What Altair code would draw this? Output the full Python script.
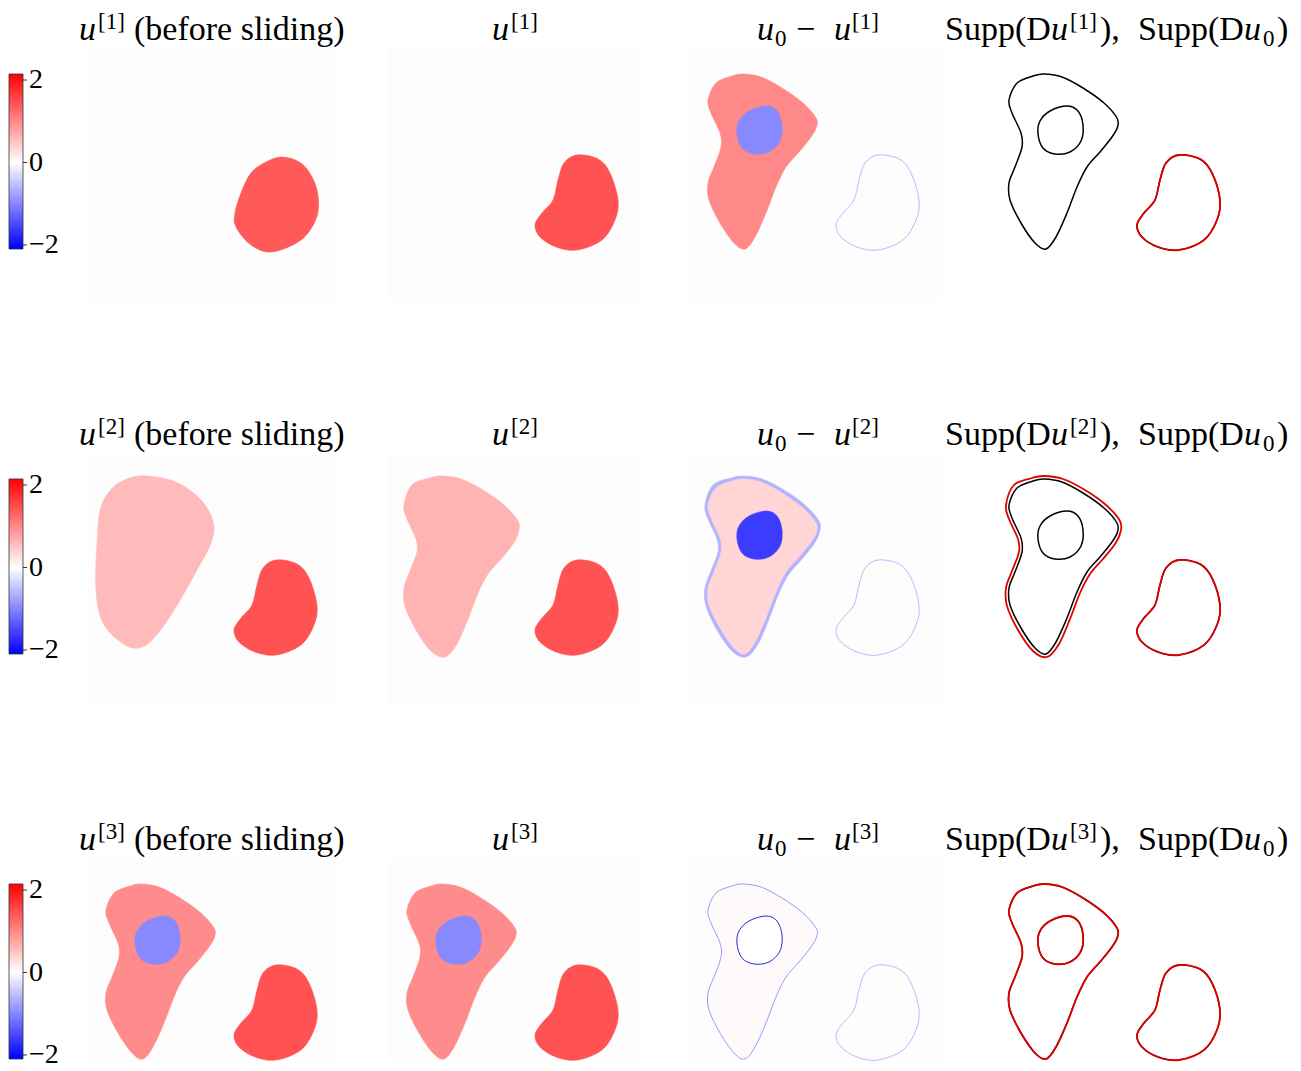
import altair as alt
import pandas as pd

# ---------------- data: outlines (panel-local pixels, y downward) ----------------
# u0 large region (outer boundary)
P_X = [19, 27, 43, 54, 72, 93, 114, 127, 127.5, 122, 110, 97, 87, 77, 66, 56, 45, 31, 20, 19, 25, 32, 31, 22]
P_Y = [52, 35, 28, 26, 29, 40, 55, 70, 79, 89, 104, 119, 139, 165, 189, 201, 195, 175, 152, 135, 119, 99, 85, 65]
# u0 inner region (hole)
H_X = [77, 88, 93, 91, 80, 65, 53, 48, 50, 60]
H_Y = [58, 63, 77, 93, 104, 106, 100, 86, 73, 63]
# u0 small region (bean)
B_X = [189, 210, 222, 230, 227, 214, 189, 168, 152, 147, 154, 165, 170, 176]
B_Y = [107, 111, 125, 152, 172, 192, 202, 199, 189, 177, 165, 152, 132, 115]
# u[1] small region before sliding
E1_X = [195, 214, 226.5, 231.5, 228.6, 214, 185, 164, 149, 148, 154, 164, 179]
E1_Y = [109, 115, 132, 152, 172, 192, 204, 197, 179, 165, 145, 125, 114]
# u[2] large region before sliding
E2_X = [60, 89, 114, 126.5, 124, 110, 89, 68, 51.5, 35, 16, 9, 10, 14, 26.5, 43]
E2_Y = [23, 29, 47, 70, 90, 117, 154, 184, 195, 190, 170, 137, 90, 54, 34, 25]
# u[2] large region after sliding
P2_X = [16, 24, 42, 54, 73, 95, 116, 130, 130.5, 125, 113, 100, 90, 80, 69, 57, 43, 28, 17, 16, 22, 29, 28, 19]
P2_Y = [52, 32, 25, 23, 26, 37, 52, 68, 79, 91, 106, 121, 140, 166, 191, 204, 198, 177, 153, 135, 118, 99, 86, 66]

# ---------------- data: field values ----------------
V_BEAN = 1.35
V_E1 = 1.30
V_E2 = 0.53
V_P2 = 0.60
V_U3_BIG = 0.90
V_U3_HOLE = -0.93
V_D1_BIG = 0.93
V_D1_HOLE = -0.93
V_D2_RIM = -0.60
V_D2_BIG = 0.33
V_D2_HOLE = -1.53
V_D3_BIG = 0.04
V_FAINT = 0.02
V_ZERO = 0.0

# colorbar
CB_TICKS = [-2, 0, 2]
CB_LABELS = ["\u22122", "0", "2"]
CB_LO, CB_HI = -2.097, 2.146
CB_TOP = 2.776
CB_PX_PER_UNIT = 41.25

TITLE_SUP = ["[1]", "[2]", "[3]"]

# ---------------- styling / layout ----------------
W = 252
HEIGHTS = [252, 252, 204]
FONT = "Liberation Serif"
MAIN = 34
SMALL = 23
Y_MAIN = -8
Y_SUP = -19
Y_SUB = -2

BWR = alt.Scale(domain=[-2, 0, 2], range=["#0000ff", "#ffffff", "#ff0000"], interpolate="rgb")


def xs_(H):
    return dict(
        x=alt.X("x:Q", scale=alt.Scale(domain=[0, W], nice=False, zero=False), axis=None),
        y=alt.Y("y:Q", scale=alt.Scale(domain=[0, H], nice=False, zero=False, reverse=True), axis=None),
    )


def sdf(xs, ys, v=0.0):
    return pd.DataFrame({"x": xs, "y": ys, "i": list(range(len(xs))), "v": [v] * len(xs)})


def filled(xs, ys, v, H):
    return alt.Chart(sdf(xs, ys, v)).mark_line(interpolate="cardinal-closed", strokeWidth=0.6).encode(
        **xs_(H),
        order=alt.Order("i:Q"),
        fill=alt.Fill("v:Q", scale=BWR, legend=None),
        stroke=alt.Stroke("v:Q", scale=BWR, legend=None),
    )


def outline(xs, ys, color, width, H):
    return alt.Chart(sdf(xs, ys)).mark_line(
        interpolate="cardinal-closed", color=color, strokeWidth=width
    ).encode(**xs_(H), order=alt.Order("i:Q"))


def txt(s, x, y, size, italic=False):
    return alt.Chart(pd.DataFrame({"t": [s]})).mark_text(
        align="left", baseline="alphabetic", font=FONT, fontSize=size,
        fontStyle="italic" if italic else "normal", color="black",
    ).encode(x=alt.value(x), y=alt.value(y), text="t:N")


def title_layers(col, k):
    sup = TITLE_SUP[k]
    if col == 0:
        return [txt("u", -8, Y_MAIN, MAIN, True), txt(sup, 11, Y_SUP, SMALL),
                txt("(before sliding)", 47, Y_MAIN, MAIN)]
    if col == 1:
        return [txt("u", 104, Y_MAIN, MAIN, True), txt(sup, 123, Y_SUP, SMALL)]
    if col == 2:
        return [txt("u", 68, Y_MAIN, MAIN, True), txt("0", 86, Y_SUB, SMALL),
                txt("\u2212", 107, Y_MAIN, MAIN), txt("u", 145, Y_MAIN, MAIN, True),
                txt(sup, 163, Y_SUP, SMALL)]
    return [txt("Supp(D", -45, Y_MAIN, MAIN), txt("u", 61, Y_MAIN, MAIN, True),
            txt(sup, 80, Y_SUP, SMALL), txt("),", 110, Y_MAIN, MAIN),
            txt("Supp(D", 148, Y_MAIN, MAIN), txt("u", 254, Y_MAIN, MAIN, True),
            txt("0", 273, Y_SUB, SMALL), txt(")", 287, Y_MAIN, MAIN)]


def panel(layers, H, image=True):
    view = alt.ViewBackground(stroke=None, fill="#fefdfd") if image else alt.ViewBackground(stroke=None)
    return alt.layer(*layers).properties(width=W, height=H, view=view)


def faint_bean(H):
    return [filled(B_X, B_Y, V_FAINT, H), outline(B_X, B_Y, "#a8a8ff", 0.8, H)]


def row_panels(k):
    H = HEIGHTS[k]
    if k == 0:
        c1 = [filled(E1_X, E1_Y, V_E1, H)]
        c2 = [filled(B_X, B_Y, V_BEAN, H)]
        c3 = [filled(P_X, P_Y, V_D1_BIG, H), filled(H_X, H_Y, V_D1_HOLE, H)] + faint_bean(H)
        red = [outline(B_X, B_Y, "#e00000", 1.8, H)]
    elif k == 1:
        c1 = [filled(E2_X, E2_Y, V_E2, H), filled(B_X, B_Y, V_BEAN, H)]
        c2 = [filled(P2_X, P2_Y, V_P2, H), filled(B_X, B_Y, V_BEAN, H)]
        c3 = [filled(P2_X, P2_Y, V_D2_RIM, H), filled(P_X, P_Y, V_D2_BIG, H),
              filled(H_X, H_Y, V_D2_HOLE, H)] + faint_bean(H)
        red = [outline(P2_X, P2_Y, "#e00000", 1.8, H), outline(B_X, B_Y, "#e00000", 1.8, H)]
    else:
        c1 = [filled(P_X, P_Y, V_U3_BIG, H), filled(H_X, H_Y, V_U3_HOLE, H), filled(B_X, B_Y, V_BEAN, H)]
        c2 = [filled(P_X, P_Y, V_U3_BIG, H), filled(H_X, H_Y, V_U3_HOLE, H), filled(B_X, B_Y, V_BEAN, H)]
        c3 = [filled(P_X, P_Y, V_D3_BIG, H), outline(P_X, P_Y, "#8080ff", 0.8, H),
              filled(H_X, H_Y, V_ZERO, H), outline(H_X, H_Y, "#2a2ad0", 1.0, H)] + faint_bean(H)
        red = [outline(P_X, P_Y, "#e00000", 1.8, H), outline(H_X, H_Y, "#e00000", 1.8, H),
               outline(B_X, B_Y, "#e00000", 1.8, H)]
    black = [outline(P_X, P_Y, "black", 1.5, H), outline(H_X, H_Y, "black", 1.5, H),
             outline(B_X, B_Y, "black", 1.5, H)]
    c4 = black + red
    cols = [c1, c2, c3, c4]
    return [panel(c + title_layers(ci, k), H, image=(ci < 3)) for ci, c in enumerate(cols)]


def colorbar(k):
    H = HEIGHTS[k]
    lo = CB_TOP - H / CB_PX_PER_UNIT
    yscale = alt.Scale(domain=[lo, CB_TOP], nice=False, zero=False)
    grad = alt.Gradient(
        gradient="linear", x1=0, x2=0, y1=0, y2=1,
        stops=[alt.GradientStop(offset=0, color="#ff0000"),
               alt.GradientStop(offset=(CB_HI - 0) / (CB_HI - CB_LO), color="#ffffff"),
               alt.GradientStop(offset=1, color="#0000ff")],
    )
    bar = alt.Chart(pd.DataFrame({"lo": [CB_LO], "hi": [CB_HI]})).mark_rect(
        fill=grad, stroke="#333333", strokeWidth=0.8
    ).encode(
        x=alt.value(0), x2=alt.value(14),
        y=alt.Y("lo:Q", scale=yscale, axis=None),
        y2="hi:Q",
    )
    tdf = pd.DataFrame({"v": CB_TICKS, "lab": CB_LABELS})
    ticks = alt.Chart(tdf).mark_rule(color="black", strokeWidth=0.8).encode(
        x=alt.value(14), x2=alt.value(18), y=alt.Y("v:Q", scale=yscale, axis=None)
    )
    labels = alt.Chart(tdf).mark_text(
        align="left", baseline="middle", font=FONT, fontSize=28, color="black"
    ).encode(x=alt.value(20), y=alt.Y("v:Q", scale=yscale, axis=None), text="lab:N")
    return alt.layer(bar, ticks, labels).properties(
        width=29, height=H, view=alt.ViewBackground(stroke=None)
    )


rows = [alt.hconcat(colorbar(k), *row_panels(k), spacing=49, bounds="flush") for k in range(3)]

chart = alt.vconcat(*rows, spacing=116).properties(
    padding={"left": 0, "top": 3, "right": 0, "bottom": 0},
    background="white",
).configure_view(stroke=None)

chart.save("out.html", embed_options={"renderer": "svg", "actions": False})
